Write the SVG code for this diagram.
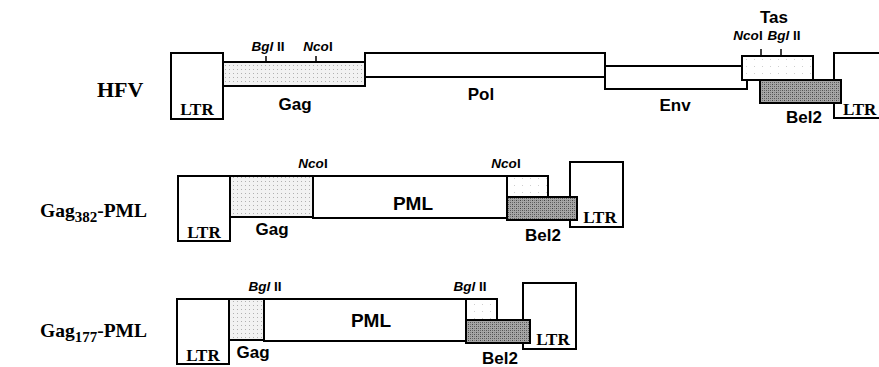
<svg xmlns="http://www.w3.org/2000/svg" width="879" height="367" viewBox="0 0 879 367">
<defs>
<pattern id="light" width="4" height="4" patternUnits="userSpaceOnUse">
<rect width="4" height="4" fill="#f2f2f2"/>
<rect x="1" y="1" width="1" height="1" fill="#b0b0b0"/>
</pattern>
<pattern id="faint" width="8" height="7" patternUnits="userSpaceOnUse">
<rect width="8" height="7" fill="#ffffff"/>
<rect x="2" y="3" width="1" height="1" fill="#cfcfcf"/>
</pattern>
<pattern id="dark" width="4" height="4" patternUnits="userSpaceOnUse">
<rect width="4" height="4" fill="#a6a6a6"/>
<rect x="0" y="0" width="1" height="1" fill="#444"/>
<rect x="2" y="2" width="1" height="1" fill="#555"/>
<rect x="2" y="0" width="1" height="1" fill="#7a7a7a"/>
<rect x="0" y="2" width="1" height="1" fill="#6a6a6a"/>
</pattern>
</defs>
<style>
.box{stroke:#000;stroke-width:2;fill:#fff}
.lt{fill:url(#light)}
.ft{fill:url(#faint)}
.dk{fill:url(#dark)}
.ln{stroke:#000;stroke-width:2;fill:none}
.tk{stroke:#000;stroke-width:1.5}
.ser{font-family:"Liberation Serif","Times New Roman",serif;font-weight:bold;fill:#000}
.ltr{font-size:17px}
.name{font-size:22px}
.row{font-size:19.5px}
.sub{font-size:15px}
.san{font-family:"Liberation Sans",Arial,sans-serif;font-weight:bold;fill:#000;font-size:17px;text-anchor:middle}
.pml{font-size:19px}
.site{font-family:"Liberation Sans",Arial,sans-serif;font-weight:bold;fill:#000;font-size:13.5px;text-anchor:middle}
.it{font-style:italic}
</style>
<rect width="879" height="367" fill="#fff"/>

<!-- Row labels -->
<g id="label-hfv"><text class="ser name" x="97" y="97">HFV</text></g>
<g id="label-gag382"><text class="ser row" x="40" y="217">Gag<tspan class="sub" dy="5">382</tspan><tspan dy="-5">-PML</tspan></text></g>
<g id="label-gag177"><text class="ser row" x="40" y="337">Gag<tspan class="sub" dy="5">177</tspan><tspan dy="-5">-PML</tspan></text></g>

<!-- HFV row -->
<g id="hfv-ltr5">
<rect class="box" x="171" y="53" width="52" height="66"/>
<text class="ser ltr" x="197" y="115" text-anchor="middle">LTR</text>
</g>
<g id="hfv-gag">
<rect class="box lt" x="223" y="62" width="142" height="24"/>
<text class="san" x="295" y="110">Gag</text>
</g>
<g id="hfv-pol">
<rect class="box" x="365" y="53" width="240" height="24"/>
<text class="san" x="481" y="100">Pol</text>
</g>
<g id="hfv-env">
<path class="box" d="M605 66 H747 V89 H605 Z"/>
<text class="san" x="675" y="111">Env</text>
</g>
<g id="hfv-tas">
<rect class="box ft" x="742" y="56" width="71" height="24"/>
<text class="san" x="774" y="23">Tas</text>
</g>
<g id="hfv-ltr3">
<path class="ln" d="M890 53 H834 V118 H890" fill="#fff"/>
<text class="ser ltr" x="843" y="115">LTR</text>
</g>
<g id="hfv-bel2">
<rect class="box dk" x="760" y="80" width="81" height="23"/>
<text class="san" x="804" y="123">Bel2</text>
</g>

<!-- Gag382-PML row -->
<g id="g382-ltr5">
<rect class="box" x="178" y="176" width="52" height="65"/>
<text class="ser ltr" x="204" y="238" text-anchor="middle">LTR</text>
</g>
<g id="g382-gag">
<rect class="box lt" x="230" y="176" width="83" height="41"/>
<text class="san" x="272" y="235">Gag</text>
</g>
<g id="g382-pml">
<rect class="box" x="313" y="176" width="194" height="42"/>
<text class="san pml" x="413" y="210">PML</text>
</g>
<g id="g382-tas">
<rect class="box ft" x="507" y="176" width="41" height="21"/>
</g>
<g id="g382-ltr3">
<rect class="box" x="570" y="162" width="53" height="65"/>
<text class="ser ltr" x="600" y="223" text-anchor="middle">LTR</text>
</g>
<g id="g382-bel2">
<rect class="box dk" x="507" y="197" width="70" height="23"/>
<text class="san" x="543" y="241">Bel2</text>
</g>

<!-- Gag177-PML row -->
<g id="g177-ltr5">
<rect class="box" x="177" y="299" width="52" height="65"/>
<text class="ser ltr" x="203" y="361" text-anchor="middle">LTR</text>
</g>
<g id="g177-gag">
<rect class="box lt" x="229" y="299" width="35" height="41"/>
<text class="san" x="253" y="358">Gag</text>
</g>
<g id="g177-pml">
<rect class="box" x="264" y="299" width="202" height="42"/>
<text class="san pml" x="371" y="327">PML</text>
</g>
<g id="g177-tas">
<rect class="box ft" x="466" y="299" width="31" height="21"/>
</g>
<g id="g177-ltr3">
<rect class="box" x="523" y="283" width="53" height="66"/>
<text class="ser ltr" x="553" y="345" text-anchor="middle">LTR</text>
</g>
<g id="g177-bel2">
<rect class="box dk" x="466" y="320" width="64" height="23"/>
<text class="san" x="500" y="364">Bel2</text>
</g>

<!-- restriction sites -->
<g id="connectors">
<line class="tk" x1="266" y1="56" x2="266" y2="62"/>
<line class="tk" x1="316" y1="56" x2="316" y2="62"/>
<line class="tk" x1="761" y1="49" x2="761" y2="56"/>
<line class="tk" x1="781" y1="49" x2="781" y2="56"/>
</g>
<g id="sites">
<text class="site" x="268" y="51"><tspan class="it">Bgl</tspan> II</text>
<text class="site" x="318" y="51"><tspan class="it">Nco</tspan>I</text>
<text class="site" x="748" y="40"><tspan class="it">Nco</tspan>I</text>
<text class="site" x="784" y="40"><tspan class="it">Bgl</tspan> II</text>
<text class="site" x="313" y="168"><tspan class="it">Nco</tspan>I</text>
<text class="site" x="506" y="168"><tspan class="it">Nco</tspan>I</text>
<text class="site" x="265" y="291"><tspan class="it">Bgl</tspan> II</text>
<text class="site" x="470" y="291"><tspan class="it">Bgl</tspan> II</text>
</g>
</svg>
